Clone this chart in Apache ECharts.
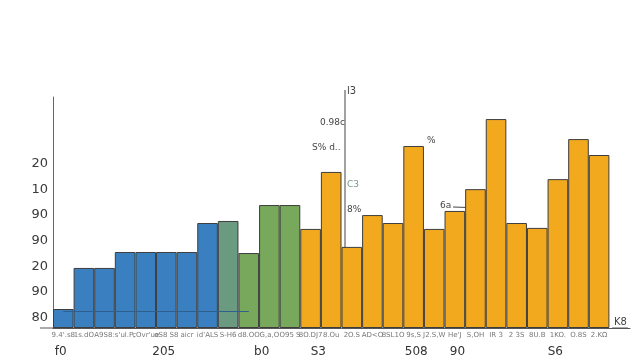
<!DOCTYPE html>
<html>
<head>
<meta charset="utf-8">
<script src="https://cdn.jsdelivr.net/npm/echarts@6/dist/echarts.min.js"></script>
<style>html,body{margin:0;padding:0;background:#fff}#c{width:640px;height:360px}</style>
</head>
<body>
<div id="c"></div>
<script>
// ---- data ----
var categories = ["9.4'.s8","1s.dO","A9S8:","s'ul.P,","cOvr'ue","oS8 S8","aicr","id'ALS","S-H6","d8.OO","G,a,O","O95 S","8O.DJ7","8.Ou","2O.S","AD<O","8SL1O","9s,S","J2.S,W","He'J","S,OH","IR 3","2 3S","8U.B","1KO.","O.8S","2.KΩ",""];
var groups = ["b","b","b","b","b","b","b","b","t","g","g","g","o","o","o","o","o","o","o","o","o","o","o","o","o","o","o","o"];
var values = [7.4,23.4,23.4,29.6,29.6,29.6,29.6,40.9,41.7,29.2,47.9,47.9,38.6,60.8,31.6,44.0,40.9,70.9,38.6,45.6,54.1,81.4,40.9,39.0,58.0,73.6,67.4,null];
var yTickValues = [4,14,24,34,44,54,64];
var yTickLabels = ["80","90","20","90","90","10","20"];
var bigTickSlots = 112;
var bigTicks = [[1,"f0"],[21,"205"],[40,"b0"],[51,"S3"],[70,"508"],[78,"90"],[97,"S6"]];

// ---- chart ----
var colorMap = {b:"#3a80c0", t:"#6a9a80", g:"#78a85c", o:"#f2a91e"};
var bigCats = [];
for (var i = 0; i < bigTickSlots; i++) bigCats.push("");
bigTicks.forEach(function(p){ bigCats[p[0]] = p[1]; });

var chart = echarts.init(document.getElementById('c'), null, {renderer:'canvas'});
var font = "DejaVu Sans";
chart.setOption({
  animation:false,
  backgroundColor:"#fff",
  grid:{left:53,right:10,top:97,bottom:32},
  xAxis:[{
    type:"category", data:categories, boundaryGap:true,
    axisLine:{show:true, lineStyle:{color:"#555", width:1}},
    axisTick:{show:false},
    axisLabel:{interval:0, fontSize:7, color:"#777", fontFamily:font, margin:4}
  },{
    type:"category", data:bigCats, position:"bottom",
    axisLine:{show:false}, axisTick:{show:false}, splitLine:{show:false},
    axisLabel:{interval:0, fontSize:12, color:"#333", fontFamily:font, margin:18}
  }],
  yAxis:{
    type:"value", min:0, max:90,
    axisLine:{show:true, lineStyle:{color:"#666", width:1}},
    axisTick:{show:false},
    splitLine:{show:false},
    axisLabel:{customValues:yTickValues, fontSize:13, color:"#3a3a3a", fontFamily:font, margin:5,
      formatter:function(v){ var k = yTickValues.indexOf(v); return k>=0 ? yTickLabels[k] : ""; }}
  },
  series:[{
    type:"bar", xAxisIndex:0, barCategoryGap:"0%", barWidth:"100%",
    data:values.map(function(v,i){ return {value:v, itemStyle:{color:colorMap[groups[i]]}}; }),
    itemStyle:{borderColor:"#3d3d3d", borderWidth:1},
    markLine:{symbol:"none", silent:true, label:{show:false},
      lineStyle:{color:"#2f5f8c", width:1, type:"solid"},
      data:[[{coord:[0,6.6]},{coord:[9,6.6]}]]}
  }],
  graphic:[
    {type:"line", shape:{x1:40,y1:328,x2:53,y2:328}, style:{stroke:"#555", lineWidth:1}},
    {type:"line", shape:{x1:345,y1:90,x2:345,y2:248}, style:{stroke:"#444", lineWidth:1}},
    {type:"text", left:347, top:86, style:{text:"l3", fontSize:10, fill:"#444", fontFamily:font}},
    {type:"text", left:320, top:118, style:{text:"0.98c", fontSize:9, fill:"#444", fontFamily:font}},
    {type:"text", left:312, top:143, style:{text:"S% d..", fontSize:9, fill:"#444", fontFamily:font}},
    {type:"text", left:347, top:180, style:{text:"C3", fontSize:9, fill:"#7a9a80", fontFamily:font}},
    {type:"text", left:347, top:205, style:{text:"8%", fontSize:9, fill:"#444", fontFamily:font}},
    {type:"text", left:427, top:136, style:{text:"%", fontSize:9, fill:"#444", fontFamily:font}},
    {type:"text", left:440, top:201, style:{text:"6a", fontSize:9, fill:"#444", fontFamily:font}},
    {type:"line", shape:{x1:453,y1:207,x2:484,y2:208}, style:{stroke:"#444", lineWidth:1}},
    {type:"text", left:614, top:317, style:{text:"K8", fontSize:10, fill:"#444", fontFamily:font}},
    {type:"line", shape:{x1:612,y1:328,x2:628,y2:328}, style:{stroke:"#555", lineWidth:1}}
  ]
});
</script>
</body>
</html>
